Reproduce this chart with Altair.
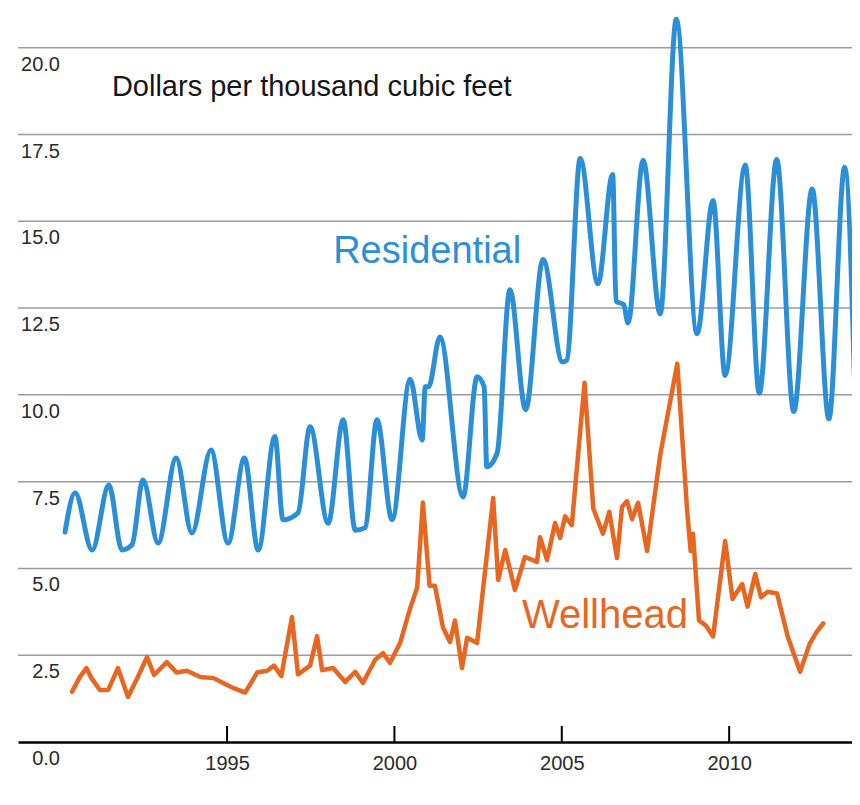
import altair as alt
import pandas as pd

# ---- data ----
res_year = [1990.16, 1990.46, 1990.97, 1991.47, 1991.86, 1992.16, 1992.49, 1992.94, 1993.48, 1993.95,
            1994.52, 1995.03, 1995.52, 1995.93, 1996.43, 1996.67, 1997.12, 1997.48, 1998.02, 1998.47,
            1998.83, 1999.12, 1999.48, 1999.93, 2000.47, 2000.83, 2000.92, 2001.02, 2001.36, 2002.05,
            2002.47, 2002.68, 2002.76, 2003.07, 2003.45, 2003.92, 2004.44, 2005.02, 2005.15, 2005.55,
            2006.08, 2006.52, 2006.62, 2006.85, 2006.98, 2007.43, 2007.94, 2008.42, 2009.04, 2009.52,
            2009.88, 2010.48, 2010.90, 2011.42, 2011.93, 2012.48, 2012.98, 2013.45, 2013.78]
res_value = [6.05, 7.18, 5.53, 7.40, 5.53, 5.68, 7.55, 5.73, 8.18, 6.02,
             8.41, 5.73, 8.18, 5.53, 8.80, 6.40, 6.60, 9.08, 6.30, 9.28,
             6.10, 6.17, 9.28, 6.40, 10.45, 8.70, 10.23, 10.23, 11.67, 7.06,
             10.52, 10.23, 7.93, 8.33, 13.03, 9.57, 13.90, 10.95, 11.00, 16.81,
             13.20, 16.35, 12.70, 12.60, 12.07, 16.76, 12.33, 20.82, 11.76, 15.60,
             10.56, 16.62, 10.05, 16.78, 9.52, 15.93, 9.31, 16.56, 9.26]

well_year = [1990.37, 1990.60, 1990.80, 1990.95, 1991.20, 1991.45, 1991.74, 1992.04, 1992.30, 1992.61,
             1992.82, 1993.20, 1993.50, 1993.80, 1994.20, 1994.60, 1995.00, 1995.20, 1995.54, 1995.90,
             1996.20, 1996.40, 1996.62, 1996.94, 1997.12, 1997.48, 1997.69, 1997.84, 1998.17, 1998.53,
             1998.83, 1999.06, 1999.42, 1999.66, 1999.87, 2000.17, 2000.47, 2000.68, 2000.85, 2001.05,
             2001.21, 2001.45, 2001.66, 2001.81, 2002.02, 2002.17, 2002.47, 2002.95, 2003.10, 2003.31,
             2003.60, 2003.90, 2004.26, 2004.35, 2004.56, 2004.80, 2004.95, 2005.10, 2005.30, 2005.68,
             2005.94, 2006.23, 2006.42, 2006.65, 2006.80, 2006.95, 2007.10, 2007.28, 2007.55, 2007.94,
             2008.45, 2008.74, 2008.85, 2008.92, 2009.10, 2009.30, 2009.52, 2009.88, 2010.10, 2010.39,
             2010.55, 2010.78, 2010.95, 2011.15, 2011.43, 2011.75, 2012.12, 2012.40, 2012.60, 2012.81]
well_value = [1.45, 1.87, 2.13, 1.84, 1.50, 1.50, 2.13, 1.30, 1.80, 2.45,
              1.93, 2.30, 2.00, 2.05, 1.87, 1.84, 1.64, 1.55, 1.42, 2.00,
              2.05, 2.20, 1.90, 3.60, 1.95, 2.20, 3.05, 2.07, 2.13, 1.73,
              2.02, 1.70, 2.36, 2.56, 2.28, 2.85, 3.85, 4.45, 6.90, 4.50,
              4.50, 3.30, 2.88, 3.50, 2.13, 3.00, 2.85, 7.03, 4.67, 5.53,
              4.38, 5.33, 5.19, 5.90, 5.24, 6.31, 5.88, 6.50, 6.25, 10.35,
              6.73, 6.00, 6.63, 5.30, 6.78, 6.94, 6.42, 6.89, 5.50, 8.27,
              10.90, 6.73, 5.50, 6.00, 3.50, 3.36, 3.04, 5.79, 4.12, 4.55,
              3.90, 4.84, 4.17, 4.33, 4.28, 3.04, 2.02, 2.82, 3.15, 3.42]

y_ticks = [0.0, 2.5, 5.0, 7.5, 10.0, 12.5, 15.0, 17.5, 20.0]
y_tick_labels = ["0.0", "2.5", "5.0", "7.5", "10.0", "12.5", "15.0", "17.5", "20.0"]
x_ticks = [1995, 2000, 2005, 2010]

title_text = ["Dollars per thousand cubic feet"]
series_names = ["Residential", "Wellhead"]
label_year = [1998.17, 2003.81]
label_value = [13.8, 3.29]

BLUE = "#2b8fd8"
ORANGE = "#e8661f"
FONT = "Liberation Sans"

res_df = pd.DataFrame({"year": res_year, "value": res_value})
well_df = pd.DataFrame({"year": well_year, "value": well_value})
grid_df = pd.DataFrame({"v": y_ticks[1:]})
ylab_df = pd.DataFrame({"v": y_ticks, "label": y_tick_labels})
xt_df = pd.DataFrame({"t": x_ticks})
lab_df = pd.DataFrame({"name": series_names, "year": label_year, "value": label_value,
                       "color": [BLUE, ORANGE], "size": [38, 40]})
title_df = pd.DataFrame({"t": title_text, "year": [1991.56], "value": [18.62]})

xscale = alt.Scale(domain=[1988.755, 2013.67], nice=False, zero=False)
yscale = alt.Scale(domain=[0, 21], nice=False, zero=True)
xaxis = alt.Axis(values=x_ticks, format="d", title=None, grid=False, ticks=False,
                 domain=True, domainColor="#000000", domainWidth=2.5,
                 labelFontSize=20, labelColor="#2a2a2a", labelFont=FONT, labelPadding=11)

grid = alt.Chart(grid_df).mark_rule(color="#9c9c9c", strokeWidth=1.5).encode(
    y=alt.Y("v:Q", scale=yscale, axis=None),
    x=alt.value(0), x2=alt.value(834))

res_line = alt.Chart(res_df).mark_line(color=BLUE, strokeWidth=5, interpolate="monotone",
                                       strokeJoin="round", strokeCap="round", clip=True).encode(
    x=alt.X("year:Q", scale=xscale, axis=xaxis),
    y=alt.Y("value:Q", scale=yscale, axis=None))

well_line = alt.Chart(well_df).mark_line(color=ORANGE, strokeWidth=4.5, interpolate="linear",
                                         strokeJoin="round", strokeCap="round", clip=True).encode(
    x=alt.X("year:Q", scale=xscale, axis=xaxis),
    y=alt.Y("value:Q", scale=yscale, axis=None))

xticks = alt.Chart(xt_df).mark_rule(color="#000000", strokeWidth=2).encode(
    x=alt.X("t:Q", scale=xscale, axis=xaxis),
    y=alt.value(729), y2=alt.value(713))

ylabels = alt.Chart(ylab_df).mark_text(align="right", baseline="middle", dy=17,
                                       fontSize=20, font=FONT, color="#2a2a2a").encode(
    y=alt.Y("v:Q", scale=yscale, axis=None),
    x=alt.value(42),
    text="label:N")

title = alt.Chart(title_df).mark_text(align="left", baseline="alphabetic", fontSize=29,
                                      font=FONT, color="#151515").encode(
    x=alt.X("year:Q", scale=xscale, axis=xaxis),
    y=alt.Y("value:Q", scale=yscale, axis=None),
    text="t:N")

labels = alt.Chart(lab_df).mark_text(align="left", baseline="alphabetic",
                                     font=FONT).encode(
    x=alt.X("year:Q", scale=xscale, axis=xaxis),
    y=alt.Y("value:Q", scale=yscale, axis=None),
    text="name:N",
    size=alt.Size("size:Q", scale=None, legend=None),
    color=alt.Color("color:N", scale=None))

chart = alt.layer(grid, res_line, well_line, xticks, ylabels, title, labels).properties(
    width=834, height=729,
    autosize=alt.AutoSizeParams(type="none"),
    padding={"left": 10, "top": 5, "right": 0, "bottom": 40},
    background="white"
).configure_view(stroke=None)

chart.save("out.html", embed_options={"renderer": "svg", "actions": False})
